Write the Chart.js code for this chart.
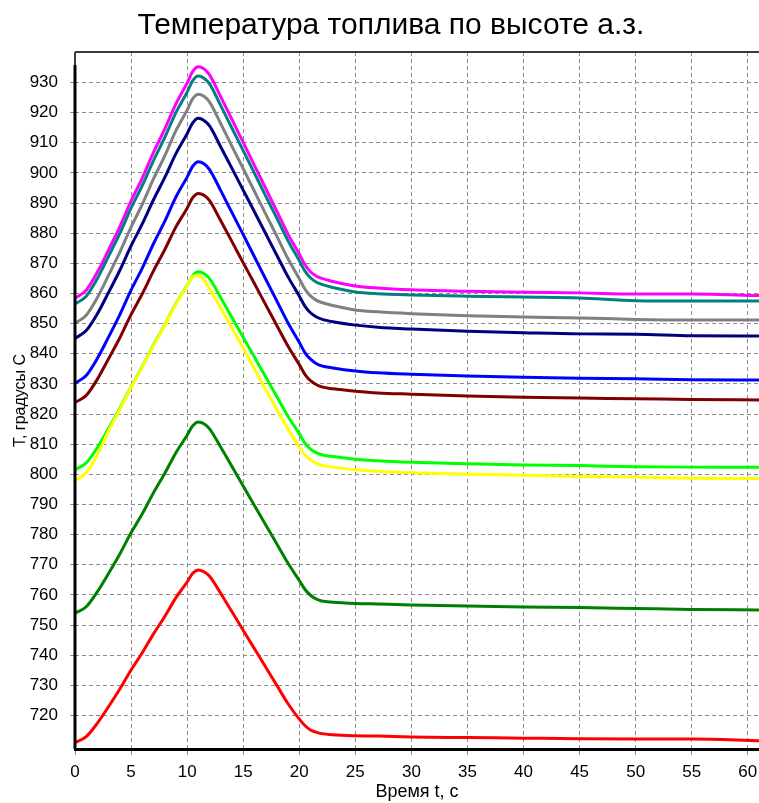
<!DOCTYPE html>
<html><head><meta charset="utf-8">
<script src="https://cdn.jsdelivr.net/npm/chart.js@4.4.1/dist/chart.umd.min.js"></script>
<style>html,body{margin:0;padding:0;background:#fff;}canvas{display:block;}</style>
</head><body>
<canvas id="c" width="759" height="803"></canvas>
<script>
const titleText = 'Температура топлива по высоте а.з.';
const xTitle = 'Время t, с';
const yTitle = 'Т, градусы С';
const times = [0,1,2,3,4,5,6,7,8,9,10,10.5,11,11.5,12,13,14,15,16,17,18,19,20,20.5,21,21.5,22,23,25,27,30,35,40,45,50,55,61];
const red    = [711.0,713.0,717.5,723.0,728.8,735.1,740.8,747.1,752.8,759.1,764.3,767.2,768.3,767.7,766.2,760.5,754.4,748.3,742.2,736.1,730.0,723.9,718.8,716.7,715.2,714.5,714.0,713.6,713.3,713.2,712.9,712.7,712.5,712.3,712.2,712.2,711.6];
const green  = [753.9,756.1,761.1,767.2,773.6,780.6,786.9,793.9,800.3,807.2,813.0,816.1,817.4,816.8,815.1,809.0,802.6,796.1,789.7,783.3,776.9,770.5,764.8,761.9,759.9,758.7,758.0,757.6,757.2,757.0,756.7,756.3,756.0,755.8,755.5,755.2,755.0];
const yellow = [797.9,800.5,806.5,814.5,821.5,828.9,835.5,842.7,849.3,856.5,862.5,865.6,866.0,864.5,861.5,855.2,848.5,841.8,835.0,828.2,821.5,815.0,809.0,806.5,804.8,803.7,803.0,802.4,801.5,801.0,800.5,800.0,799.7,799.3,799.1,798.7,798.6];
const lime   = [801.5,803.8,808.9,815.3,821.9,829.1,835.7,842.9,849.5,856.7,862.6,865.9,867.2,866.6,864.9,858.6,852.0,845.5,838.9,832.4,825.8,819.2,813.5,810.4,808.4,807.2,806.5,805.9,805.0,804.5,804.0,803.5,803.1,802.9,802.5,802.4,802.4];
const maroon = [823.8,826.2,831.6,838.4,845.3,853.0,859.9,867.5,874.5,882.1,888.3,891.8,893.2,892.6,890.8,884.1,877.2,870.2,863.3,856.3,849.4,842.5,836.4,833.2,831.1,829.8,829.0,828.4,827.6,827.0,826.6,826.0,825.6,825.3,825.1,824.8,824.7];
const blue   = [830.2,832.8,838.5,845.6,853.0,861.1,868.4,876.5,883.9,892.0,898.6,902.2,903.7,903.0,901.1,894.1,886.8,879.5,872.2,864.8,857.5,850.2,843.8,840.4,838.2,836.8,836.0,835.3,834.3,833.7,833.2,832.6,832.2,831.9,831.7,831.4,831.3];
const navy   = [845.1,847.7,853.3,860.4,867.7,875.8,883.1,891.1,898.4,906.4,913.0,916.6,918.1,917.4,915.6,908.6,901.5,894.3,887.1,879.9,872.7,865.5,859.2,855.8,853.6,852.3,851.5,850.6,849.5,848.8,848.2,847.5,847.0,846.6,846.5,846.0,845.9];
const gray   = [850.1,852.8,858.7,866.1,873.7,882.0,889.6,898.0,905.6,914.0,920.8,924.6,926.1,925.4,923.5,916.3,908.8,901.4,893.9,886.4,879.0,871.5,864.9,861.5,859.2,857.8,857.0,856.0,854.5,853.9,853.3,852.6,852.2,851.9,851.4,851.2,851.2];
const teal   = [856.5,859.1,865.0,872.4,879.9,888.3,895.8,904.1,911.7,920.0,926.8,930.6,932.1,931.4,929.5,922.3,914.8,907.4,899.9,892.4,885.0,877.5,870.9,867.5,865.2,863.8,863.0,862.0,860.5,859.9,859.5,859.1,858.8,858.5,857.6,857.5,857.5];
const magenta= [858.4,861.1,867.1,874.5,882.2,890.7,898.3,906.8,914.5,922.9,929.8,933.7,935.2,934.5,932.5,925.2,917.7,910.1,902.5,894.9,887.3,879.7,873.1,869.6,867.2,865.8,865.0,864.0,862.5,861.8,861.2,860.7,860.4,860.2,859.8,859.8,859.3];
const yTickValues = [720,730,740,750,760,770,780,790,800,810,820,830,840,850,860,870,880,890,900,910,920,930];
const xTickValues = [0,5,10,15,20,25,30,35,40,45,50,55,60];

const seriesList = [
  {v: red, c: '#FF0000'}, {v: green, c: '#008000'}, {v: yellow, c: '#FFFF00'},
  {v: lime, c: '#00FF00'}, {v: maroon, c: '#800000'}, {v: blue, c: '#0000FF'},
  {v: navy, c: '#000080'}, {v: gray, c: '#808080'}, {v: teal, c: '#008080'},
  {v: magenta, c: '#FF00FF'}
];

Chart.defaults.font.family = '"Liberation Sans", Arial, sans-serif';
Chart.defaults.color = '#000';

const frame = {
  id: 'frame',
  afterLayout(chart) {
    if (chart.titleBlock) { chart.titleBlock.left = 23; }
  },
  afterDraw(chart) {
    const a = chart.chartArea, ctx = chart.ctx;
    ctx.save();
    ctx.strokeStyle = '#3a3a3a';
    ctx.lineWidth = 2;
    ctx.beginPath();
    ctx.moveTo(a.left, a.top);
    ctx.lineTo(a.right, a.top);
    ctx.moveTo(a.left, a.top);
    ctx.lineTo(a.left, a.bottom);
    ctx.stroke();
    ctx.strokeStyle = '#000';
    ctx.lineWidth = 3;
    ctx.beginPath();
    ctx.moveTo(a.left, a.top + 13);
    ctx.lineTo(a.left, a.bottom);
    ctx.stroke();
    ctx.restore();
  }
};

new Chart(document.getElementById('c'), {
  type: 'line',
  data: {
    datasets: seriesList.map(s => ({
      data: times.map((t, i) => ({x: t, y: s.v[i]})),
      borderColor: s.c,
      borderWidth: 3,
      pointRadius: 0,
      fill: false,
      cubicInterpolationMode: 'monotone'
    }))
  },
  options: {
    responsive: false,
    animation: false,
    devicePixelRatio: 1,
    layout: {padding: 0},
    plugins: {
      legend: {display: false},
      tooltip: {enabled: false},
      title: {
        display: true, text: titleText, color: '#000',
        font: {size: 30, weight: 'normal', lineHeight: 1.2},
        padding: {top: 8, bottom: 8}
      }
    },
    scales: {
      x: {
        type: 'linear', min: 0, max: 61,
        afterBuildTicks: ax => { ax.ticks = xTickValues.map(v => ({value: v})); },
        afterFit: ax => { ax.height = 54; ax.paddingLeft = 0; ax.paddingRight = 0; },
        ticks: {font: {size: 17}, padding: 7, maxRotation: 0, autoSkip: false, color: '#000'},
        grid: {color: '#8c8c8c', lineWidth: 1, tickLength: 6, drawTicks: true, tickBorderDash: [4,3], tickColor: '#8c8c8c'},
        border: {display: true, color: '#000', width: 3, dash: [4,3]},
        title: {display: true, text: xTitle, font: {size: 18, lineHeight: 1.2}, padding: {top: 0, bottom: 0}, color: '#000'}
      },
      y: {
        type: 'linear', min: 708.9, max: 940.1,
        afterBuildTicks: ax => { ax.ticks = yTickValues.map(v => ({value: v})); },
        afterFit: ax => { ax.width = 75; ax.paddingTop = 0; ax.paddingBottom = 0; },
        ticks: {font: {size: 17}, padding: 12, color: '#000'},
        grid: {color: '#8c8c8c', lineWidth: 1, tickLength: 5, drawTicks: true, tickBorderDash: [4,3], tickColor: '#8c8c8c'},
        border: {display: false, dash: [4,3]},
        title: {display: true, text: yTitle, font: {size: 16, lineHeight: 1.2}, padding: {top: 11, bottom: 0}, color: '#000'}
      }
    }
  },
  plugins: [frame]
});
</script>
</body></html>
